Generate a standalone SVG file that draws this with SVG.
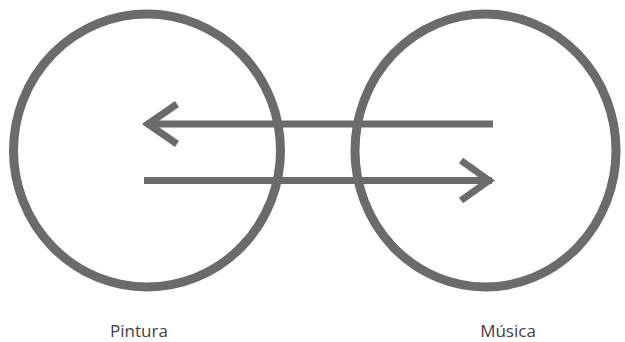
<svg xmlns="http://www.w3.org/2000/svg" width="625" height="342" viewBox="0 0 625 342">
<style>
.ring{fill:none;stroke:#6b6b6b;stroke-width:9}
.ln{fill:none;stroke:#6b6b6b;stroke-width:7;stroke-linejoin:miter;stroke-miterlimit:6}
.lbl{font-family:"Open Sans","Noto Sans",sans-serif;font-size:17px;fill:#3f3f3f;text-anchor:middle}
</style>
<rect width="625" height="342" fill="#ffffff"/>
<g id="pintura">
<ellipse class="ring" cx="147" cy="150.5" rx="133.5" ry="136.5"/>
<text class="lbl" x="139" y="337">Pintura</text>
</g>
<g id="musica">
<ellipse class="ring" cx="485.5" cy="150.5" rx="130.5" ry="136.5"/>
<text class="lbl" x="508" y="337">Música</text>
</g>
<g id="connectors">
<line class="ln" x1="493" y1="124" x2="146" y2="124"/>
<polyline class="ln" points="177,104 148,124 177,144"/>
<line class="ln" x1="144" y1="180.5" x2="492" y2="180.5"/>
<polyline class="ln" points="461,160.5 489,180.5 461,200.5"/>
</g>
</svg>
